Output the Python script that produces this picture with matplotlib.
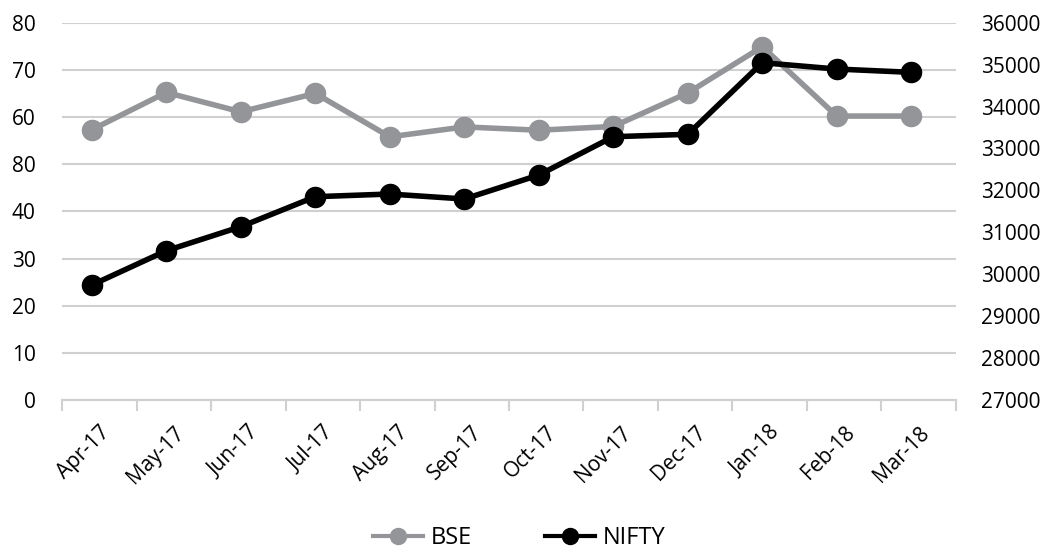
import matplotlib.pyplot as plt
from matplotlib.lines import Line2D

months = ["Apr-17", "May-17", "Jun-17", "Jul-17", "Aug-17", "Sep-17",
          "Oct-17", "Nov-17", "Dec-17", "Jan-18", "Feb-18", "Mar-18"]
bse = [57.3, 65.2, 61.1, 65.0, 55.8, 57.9, 57.2, 58.0, 65.1, 74.9, 60.2, 60.2]
nifty = [29743, 30561, 31134, 31849, 31913, 31794, 32366, 33280, 33337,
         35045, 34894, 34815]
left_ticks = [0, 10, 20, 30, 40, 50, 60, 70, 80]
left_labels = ["0", "10", "20", "30", "40", "80", "60", "70", "80"]
right_ticks = list(range(27000, 36001, 1000))

GRAY = "#939598"
GRID = "#d0d0d0"

plt.rcParams["font.family"] = ["Open Sans", "DejaVu Sans"]

fig = plt.figure(figsize=(10.51, 5.49), dpi=100)
ax = fig.add_axes([0.059, 0.2714, 0.8506, 0.6873])
ax2 = ax.twinx()

x = [i - 0.1 for i in range(len(months))]

ax.plot(x, bse, color=GRAY, lw=4, marker="o", ms=14.5, zorder=3)
ax2.plot(x, nifty, color="black", lw=4, marker="o", ms=14.5, zorder=3)

ax.set_xlim(-0.5, len(months) - 0.5)
ax.set_ylim(0, 80)
ax2.set_ylim(27000, 36000)

ax.set_yticks(left_ticks)
ax.set_yticklabels(left_labels)
ax2.set_yticks(right_ticks)
ax.yaxis.grid(True, color=GRID, lw=1.5)
ax.set_axisbelow(True)

ax.set_xticks(range(len(months)))
ax.set_xticklabels(months, rotation=45, ha="right", rotation_mode="anchor",
                   fontsize=15)
ax.set_xticks([i - 0.5 for i in range(len(months) + 1)], minor=True)
ax.tick_params(axis="x", which="major", length=0, pad=16)
ax.tick_params(axis="x", which="minor", length=8, color=GRID, width=1.5)

ax.tick_params(axis="y", length=0, labelsize=15, pad=19)
ax2.tick_params(axis="y", length=0, labelsize=15, pad=18)

for a in (ax, ax2):
    for side in ("left", "right", "top"):
        a.spines[side].set_visible(False)
    a.spines["bottom"].set_color(GRID)
    a.spines["bottom"].set_linewidth(1.5)

handles = [
    Line2D([], [], color=GRAY, lw=3, marker="o", ms=11.5),
    Line2D([], [], color="black", lw=3, marker="o", ms=11.5),
]
fig.legend(handles, ["BSE", "NIFTY"], loc="center",
           bbox_to_anchor=(0.494, 1 - 538 / 549), ncol=2, frameon=False,
           fontsize=17, handlelength=2.1, columnspacing=3.1,
           handletextpad=0.34)

fig.savefig("out.png", dpi=100)
